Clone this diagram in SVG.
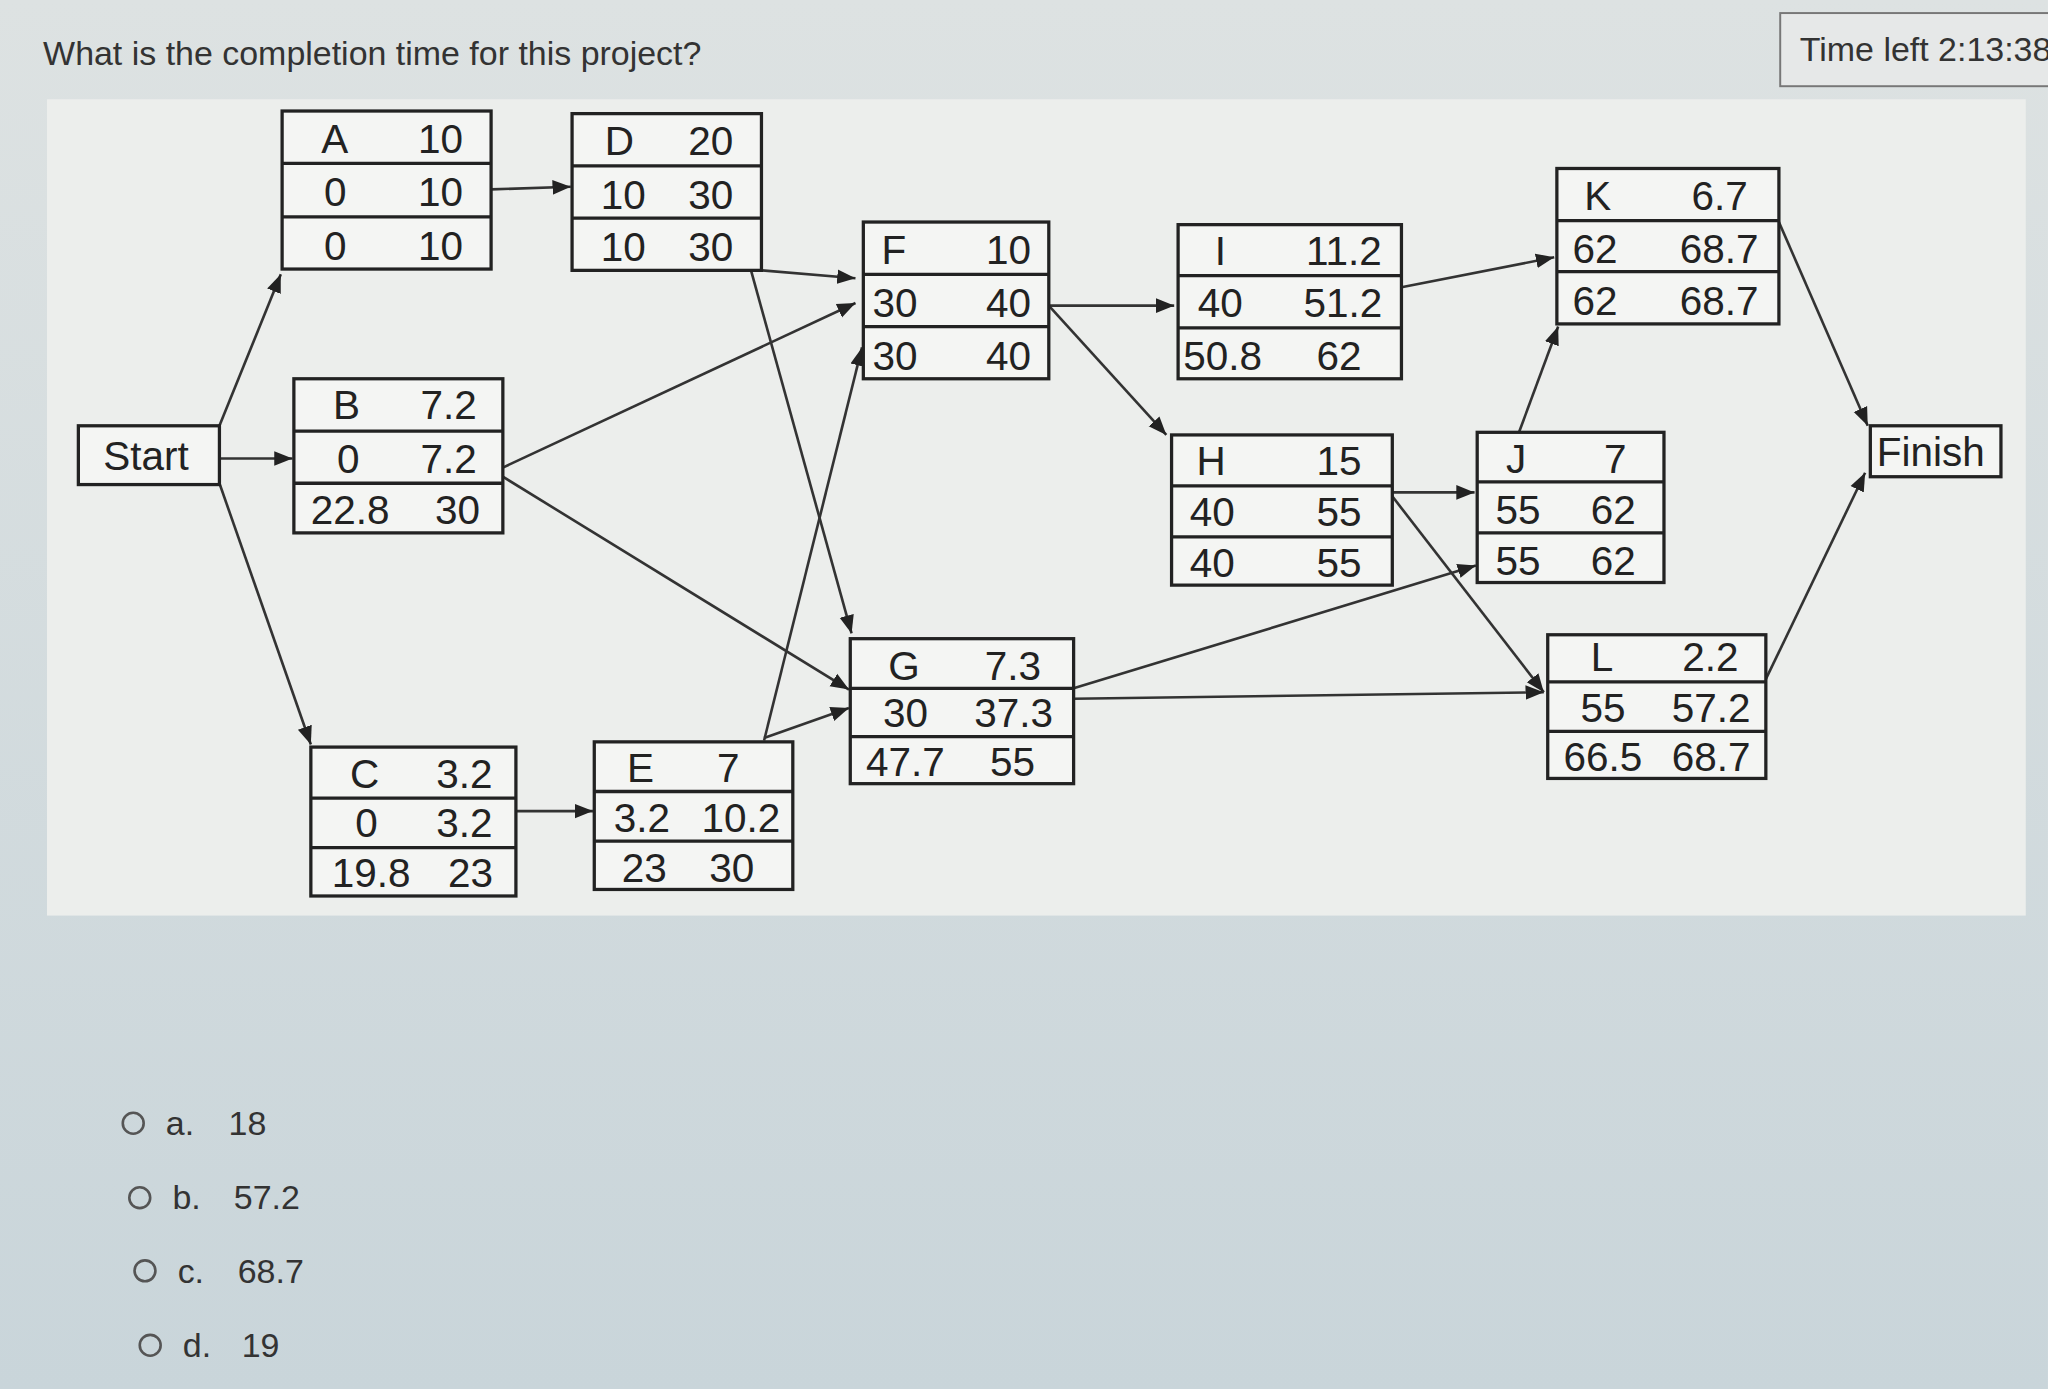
<svg xmlns="http://www.w3.org/2000/svg" width="2048" height="1389" viewBox="0 0 2048 1389">
<defs>
<style>
.n{fill:#f4f5f3;stroke:#222;stroke-width:2.5}
.t{font-family:"Liberation Sans",Arial,sans-serif;font-size:31px;fill:#222}
.s{font-family:"Liberation Sans",Arial,sans-serif;font-size:26px;fill:#333}
.c line{stroke:#333;stroke-width:2;marker-end:url(#ah)}
</style>
<marker id="ah" viewBox="0 0 10 10" refX="10" refY="5" markerWidth="7" markerHeight="7" orient="auto"><path d="M0,1 L10,5 L0,9 Z" fill="#222"/></marker>
<linearGradient id="bg" x1="0" y1="0" x2="0" y2="1"><stop offset="0" stop-color="#dde2e2"/><stop offset="1" stop-color="#c9d5da"/></linearGradient>
</defs>
<g transform="scale(1.3061)">
<rect x="0" y="0" width="1568" height="1064" fill="url(#bg)"/>
<rect x="36" y="76" width="1515" height="625" fill="#eceeec"/>
<text class="s" x="33" y="50">What is the completion time for this project?</text>
<rect x="1363" y="10" width="210" height="56" fill="#e6e8e8" stroke="#777" stroke-width="1.5"/>
<text class="s" x="1378" y="47">Time left 2:13:38</text>
<g class="c">
<line x1="168" y1="326" x2="215" y2="210"/>
<line x1="168" y1="351" x2="224" y2="351"/>
<line x1="168" y1="370" x2="238" y2="570"/>
<line x1="376" y1="145" x2="437" y2="143"/>
<line x1="583" y1="207" x2="655" y2="213"/>
<line x1="575" y1="207" x2="652" y2="485"/>
<line x1="385" y1="358" x2="655" y2="232"/>
<line x1="385" y1="365" x2="650" y2="528"/>
<line x1="395" y1="621" x2="454" y2="621"/>
<line x1="585" y1="567" x2="660" y2="266"/>
<line x1="585" y1="565" x2="650" y2="542"/>
<line x1="803" y1="234" x2="899" y2="234"/>
<line x1="803" y1="234" x2="893" y2="333"/>
<line x1="1073" y1="220" x2="1190" y2="197"/>
<line x1="1066" y1="377" x2="1129" y2="377"/>
<line x1="1066" y1="380" x2="1182" y2="530"/>
<line x1="822" y1="527" x2="1130" y2="433"/>
<line x1="822" y1="535" x2="1182" y2="530"/>
<line x1="1163" y1="331" x2="1193" y2="250"/>
<line x1="1362" y1="170" x2="1430" y2="326"/>
<line x1="1352" y1="520" x2="1428" y2="362"/>
</g>
<g id="start"><rect class="n" x="60" y="326" width="108" height="45"/><text class="t" x="79" y="360">Start</text></g>
<g id="finish"><rect class="n" x="1432" y="326" width="100" height="39"/><text class="t" x="1437" y="357" font-size="29">Finish</text></g>
<g id="A"><rect class="n" x="216" y="85" width="160" height="121"/><line x1="216" y1="125" x2="376" y2="125" stroke="#222" stroke-width="2.5"/><line x1="216" y1="166" x2="376" y2="166" stroke="#222" stroke-width="2.5"/>
<text class="t" x="246" y="117">A</text><text class="t" x="320" y="117">10</text><text class="t" x="248" y="158">0</text><text class="t" x="320" y="158">10</text><text class="t" x="248" y="199">0</text><text class="t" x="320" y="199">10</text></g>
<g id="D"><rect class="n" x="438" y="87" width="145" height="120"/><line x1="438" y1="127" x2="583" y2="127" stroke="#222" stroke-width="2.5"/><line x1="438" y1="167" x2="583" y2="167" stroke="#222" stroke-width="2.5"/>
<text class="t" x="463" y="119">D</text><text class="t" x="527" y="119">20</text><text class="t" x="460" y="160">10</text><text class="t" x="527" y="160">30</text><text class="t" x="460" y="200">10</text><text class="t" x="527" y="200">30</text></g>
<g id="F"><rect class="n" x="661" y="170" width="142" height="120"/><line x1="661" y1="210" x2="803" y2="210" stroke="#222" stroke-width="2.5"/><line x1="661" y1="250" x2="803" y2="250" stroke="#222" stroke-width="2.5"/>
<text class="t" x="675" y="202">F</text><text class="t" x="755" y="202">10</text><text class="t" x="668" y="243">30</text><text class="t" x="755" y="243">40</text><text class="t" x="668" y="283">30</text><text class="t" x="755" y="283">40</text></g>
<g id="I"><rect class="n" x="902" y="172" width="171" height="118"/><line x1="902" y1="211" x2="1073" y2="211" stroke="#222" stroke-width="2.5"/><line x1="902" y1="251" x2="1073" y2="251" stroke="#222" stroke-width="2.5"/>
<text class="t" x="930" y="203">I</text><text class="t" x="1000" y="203">11.2</text><text class="t" x="917" y="243">40</text><text class="t" x="998" y="243">51.2</text><text class="t" x="906" y="283">50.8</text><text class="t" x="1008" y="283">62</text></g>
<g id="K"><rect class="n" x="1192" y="129" width="170" height="119"/><line x1="1192" y1="169" x2="1362" y2="169" stroke="#222" stroke-width="2.5"/><line x1="1192" y1="208" x2="1362" y2="208" stroke="#222" stroke-width="2.5"/>
<text class="t" x="1213" y="161">K</text><text class="t" x="1295" y="161">6.7</text><text class="t" x="1204" y="201">62</text><text class="t" x="1286" y="201">68.7</text><text class="t" x="1204" y="241">62</text><text class="t" x="1286" y="241">68.7</text></g>
<g id="B"><rect class="n" x="225" y="290" width="160" height="118"/><line x1="225" y1="330" x2="385" y2="330" stroke="#222" stroke-width="2.5"/><line x1="225" y1="370" x2="385" y2="370" stroke="#222" stroke-width="2.5"/>
<text class="t" x="255" y="321">B</text><text class="t" x="322" y="321">7.2</text><text class="t" x="258" y="362">0</text><text class="t" x="322" y="362">7.2</text><text class="t" x="238" y="401">22.8</text><text class="t" x="333" y="401">30</text></g>
<g id="H"><rect class="n" x="897" y="333" width="169" height="115"/><line x1="897" y1="372" x2="1066" y2="372" stroke="#222" stroke-width="2.5"/><line x1="897" y1="411" x2="1066" y2="411" stroke="#222" stroke-width="2.5"/>
<text class="t" x="916" y="364">H</text><text class="t" x="1008" y="364">15</text><text class="t" x="911" y="403">40</text><text class="t" x="1008" y="403">55</text><text class="t" x="911" y="442">40</text><text class="t" x="1008" y="442">55</text></g>
<g id="J"><rect class="n" x="1131" y="331" width="143" height="115"/><line x1="1131" y1="369" x2="1274" y2="369" stroke="#222" stroke-width="2.5"/><line x1="1131" y1="408" x2="1274" y2="408" stroke="#222" stroke-width="2.5"/>
<text class="t" x="1153" y="362">J</text><text class="t" x="1228" y="362">7</text><text class="t" x="1145" y="401">55</text><text class="t" x="1218" y="401">62</text><text class="t" x="1145" y="440">55</text><text class="t" x="1218" y="440">62</text></g>
<g id="G"><rect class="n" x="651" y="489" width="171" height="111"/><line x1="651" y1="527" x2="822" y2="527" stroke="#222" stroke-width="2.5"/><line x1="651" y1="564" x2="822" y2="564" stroke="#222" stroke-width="2.5"/>
<text class="t" x="680" y="521">G</text><text class="t" x="754" y="521">7.3</text><text class="t" x="676" y="557">30</text><text class="t" x="746" y="557">37.3</text><text class="t" x="663" y="594">47.7</text><text class="t" x="758" y="594">55</text></g>
<g id="L"><rect class="n" x="1185" y="486" width="167" height="110"/><line x1="1185" y1="522" x2="1352" y2="522" stroke="#222" stroke-width="2.5"/><line x1="1185" y1="560" x2="1352" y2="560" stroke="#222" stroke-width="2.5"/>
<text class="t" x="1218" y="514">L</text><text class="t" x="1288" y="514">2.2</text><text class="t" x="1210" y="553">55</text><text class="t" x="1280" y="553">57.2</text><text class="t" x="1197" y="590">66.5</text><text class="t" x="1280" y="590">68.7</text></g>
<g id="C"><rect class="n" x="238" y="572" width="157" height="114"/><line x1="238" y1="611" x2="395" y2="611" stroke="#222" stroke-width="2.5"/><line x1="238" y1="649" x2="395" y2="649" stroke="#222" stroke-width="2.5"/>
<text class="t" x="268" y="603">C</text><text class="t" x="334" y="603">3.2</text><text class="t" x="272" y="641">0</text><text class="t" x="334" y="641">3.2</text><text class="t" x="254" y="679">19.8</text><text class="t" x="343" y="679">23</text></g>
<g id="E"><rect class="n" x="455" y="568" width="152" height="113"/><line x1="455" y1="606" x2="607" y2="606" stroke="#222" stroke-width="2.5"/><line x1="455" y1="644" x2="607" y2="644" stroke="#222" stroke-width="2.5"/>
<text class="t" x="480" y="599">E</text><text class="t" x="549" y="599">7</text><text class="t" x="470" y="637">3.2</text><text class="t" x="537" y="637">10.2</text><text class="t" x="476" y="675">23</text><text class="t" x="543" y="675">30</text></g>
<g id="options">
<circle cx="102" cy="860" r="8" fill="none" stroke="#555" stroke-width="2"/><text class="s" x="127" y="869">a.</text><text class="s" x="175" y="869">18</text>
<circle cx="107" cy="917" r="8" fill="none" stroke="#555" stroke-width="2"/><text class="s" x="132" y="926">b.</text><text class="s" x="179" y="926">57.2</text>
<circle cx="111" cy="973" r="8" fill="none" stroke="#555" stroke-width="2"/><text class="s" x="136" y="982">c.</text><text class="s" x="182" y="982">68.7</text>
<circle cx="115" cy="1030" r="8" fill="none" stroke="#555" stroke-width="2"/><text class="s" x="140" y="1039">d.</text><text class="s" x="185" y="1039">19</text>
</g>
</g>
</svg>
